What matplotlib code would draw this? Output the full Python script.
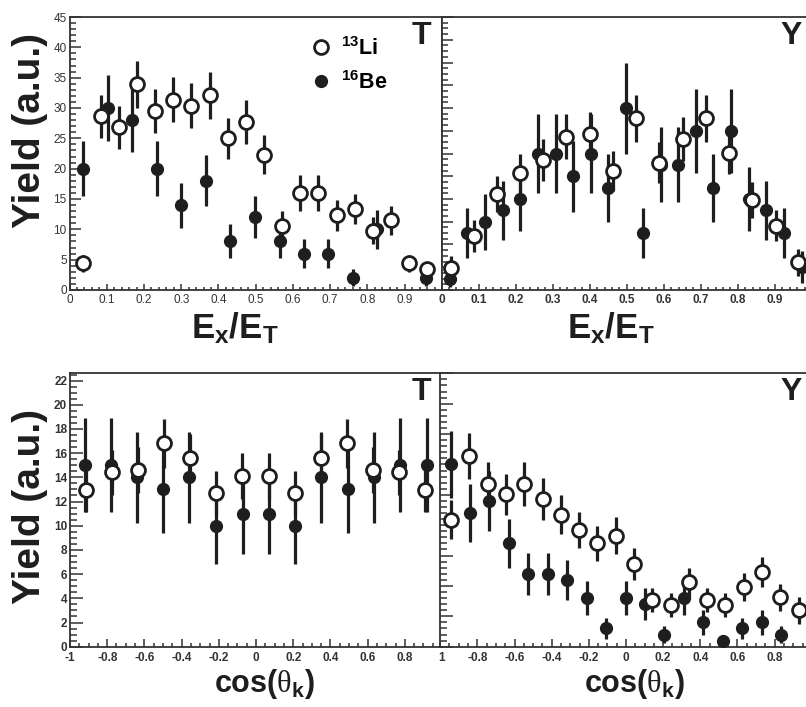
import numpy as np
import matplotlib
matplotlib.use('Agg')
import matplotlib.pyplot as plt
from matplotlib.ticker import MultipleLocator, FixedLocator, FuncFormatter
from matplotlib.lines import Line2D

plt.rcParams['font.family'] = ['Liberation Sans', 'DejaVu Sans']
plt.rcParams['mathtext.fontset'] = 'custom'
plt.rcParams['mathtext.rm'] = 'Liberation Sans:bold'
plt.rcParams['mathtext.bf'] = 'Liberation Sans:bold'
plt.rcParams['mathtext.it'] = 'Liberation Sans:bold'
plt.rcParams['mathtext.sf'] = 'Liberation Serif'

INK = '#1e1e1e'

############################### data: E_x/E_T, T system ###############################
t_li_x = [0.036, 0.084, 0.133, 0.181, 0.229, 0.277, 0.327, 0.376, 0.425, 0.473,
          0.522, 0.570, 0.619, 0.668, 0.717, 0.766, 0.815, 0.864, 0.912, 0.961]
t_li_y = [4.4, 28.6, 26.8, 33.9, 29.5, 31.4, 30.4, 32.1, 25.0, 27.7,
          22.3, 10.6, 16.0, 16.0, 12.3, 13.4, 9.8, 11.5, 4.4, 3.5]
t_li_e = [1.4, 3.6, 3.5, 3.9, 3.7, 3.7, 3.7, 3.85, 3.4, 3.6,
          3.2, 2.4, 2.9, 2.9, 2.5, 2.5, 2.2, 2.4, 1.4, 1.1]

t_be_x = [0.037, 0.104, 0.169, 0.235, 0.300, 0.367, 0.432, 0.498, 0.564, 0.630,
          0.695, 0.761, 0.826, 0.958]
t_be_y = [20, 30, 28, 20, 14, 18, 8, 12, 8, 6, 6, 2, 10, 2]
t_be_e = [4.5, 5.5, 5.3, 4.5, 3.7, 4.2, 2.8, 3.5, 2.8, 2.4, 2.4, 1.4, 3.2, 1.4]

############################### data: E_x/E_T, Y system ###############################
y_li_x = [0.025, 0.087, 0.150, 0.212, 0.274, 0.337, 0.401, 0.463, 0.526, 0.587,
          0.651, 0.713, 0.777, 0.838, 0.902, 0.963]
y_li_y = [1.96, 4.75, 8.44, 10.26, 11.43, 13.48, 13.71, 10.49, 15.09, 11.19,
          13.25, 15.09, 12.07, 7.91, 5.66, 2.43]
y_li_e = [1.05, 1.38, 1.61, 1.73, 1.86, 1.96, 1.96, 1.76, 2.05, 1.80,
          1.95, 2.05, 1.86, 1.61, 1.39, 1.17]

y_be_x = [0.024, 0.070, 0.118, 0.166, 0.212, 0.260, 0.308, 0.355, 0.403, 0.450,
          0.498, 0.545, 0.592, 0.639, 0.687, 0.734, 0.782, 0.829, 0.877, 0.925, 0.972]
y_be_y = [1, 5, 6, 7, 8, 12, 12, 10, 12, 9, 16, 5, 11, 11, 14, 9, 14, 8, 7, 5, 2]
y_be_e = [0.7, 2.2, 2.45, 2.6, 2.8, 3.45, 3.45, 3.1, 3.45, 3.0, 4.0, 2.2, 3.3, 3.3,
          3.7, 3.0, 3.7, 2.8, 2.6, 2.2, 1.4]

############################### data: cos(theta_k), T system ###############################
ct_li_x = [-0.914, -0.776, -0.635, -0.497, -0.356, -0.213, -0.073, 0.068, 0.208, 0.347,
           0.488, 0.630, 0.769, 0.911]
ct_li_y = [12.96, 14.4, 14.6, 16.8, 15.6, 12.7, 14.1, 14.1, 12.7, 15.6,
           16.8, 14.6, 14.4, 12.96]
ct_li_e = [1.85, 1.9, 1.9, 2.05, 1.95, 1.8, 1.9, 1.9, 1.8, 1.95, 2.05, 1.9, 1.9, 1.85]

ct_be_x = [-0.921, -0.778, -0.639, -0.499, -0.358, -0.213, -0.072, 0.068, 0.209, 0.349,
           0.492, 0.633, 0.775, 0.918]
ct_be_y = [15, 15, 14, 13, 14, 10, 11, 11, 10, 14, 13, 14, 15, 15]
ct_be_e = [3.87, 3.87, 3.74, 3.6, 3.74, 3.16, 3.3, 3.3, 3.16, 3.74, 3.6, 3.74, 3.87, 3.87]

############################### data: cos(theta_k), Y system ###############################
cy_li_x = [-0.944, -0.843, -0.744, -0.646, -0.547, -0.448, -0.350, -0.251, -0.154, -0.056,
           0.043, 0.142, 0.240, 0.339, 0.436, 0.535, 0.633, 0.732, 0.830, 0.929]
cy_li_y = [20.9, 31.4, 26.8, 25.1, 26.8, 24.3, 21.7, 19.2, 17.0, 18.3,
           13.6, 7.7, 6.9, 10.6, 7.7, 6.9, 9.8, 12.3, 8.1, 6.0]
cy_li_e = [3.2, 3.8, 3.6, 3.4, 3.6, 3.4, 3.2, 3.0, 2.9, 3.0,
           2.6, 2.0, 2.0, 2.4, 2.0, 2.0, 2.3, 2.5, 2.2, 2.2]

cy_be_x = [-0.944, -0.839, -0.735, -0.630, -0.526, -0.422, -0.317, -0.212, -0.106, -0.002,
           0.102, 0.206, 0.312, 0.416, 0.522, 0.626, 0.730, 0.834]
cy_be_y = [30, 22, 24, 17, 12, 12, 11, 8, 3, 8, 7, 2, 8, 4, 1, 3, 4, 2]
cy_be_e = [5.5, 4.7, 4.9, 4.1, 3.5, 3.5, 3.3, 2.8, 1.7, 2.8, 2.6, 1.4, 2.8, 2.0, 1.0, 1.7, 2.0, 1.4]

################################### figure ###################################
W, H = 806, 707
fig = plt.figure(figsize=(W / 100, H / 100), dpi=100)


def px_axes(x0, y0, x1, y1):
    # pixel box (top-left origin) -> figure fraction axes
    return fig.add_axes([x0 / W, 1 - y1 / H, (x1 - x0) / W, (y1 - y0) / H])


ax_tl = px_axes(69.5, 17, 442, 290)
ax_tr = px_axes(441.5, 17, 812, 290)
ax_bl = px_axes(70, 373.3, 442, 646.7)
ax_br = px_axes(440.2, 373.3, 811.8, 646.7)


def draw(ax, be, li):
    ax.errorbar(be[0], be[1], yerr=be[2], fmt='o', ms=8.5, mfc=INK, mec=INK,
                ecolor=INK, elinewidth=2.3, capsize=0, zorder=3)
    ax.errorbar(li[0], li[1], yerr=li[2], fmt='o', ms=10, mfc='white', mec=INK,
                mew=2.0, ecolor=INK, elinewidth=2.3, capsize=0, zorder=4)


def style(ax, bold, ylen=(8, 4.5), xlen=(4.5, 2.5), xpad=3):
    for s in ax.spines.values():
        s.set_linewidth(1.3)
        s.set_color('#333333')
    ax.tick_params(axis='both', which='both', direction='in', top=False, right=False,
                   width=1.1, color='#333333', labelcolor='#333333')
    ax.tick_params(axis='y', which='major', length=ylen[0], pad=2)
    ax.tick_params(axis='y', which='minor', length=ylen[1])
    ax.tick_params(axis='x', which='major', length=xlen[0], pad=xpad)
    ax.tick_params(axis='x', which='minor', length=xlen[1])
    w = 'bold' if bold else 'normal'
    for lab in ax.get_xticklabels() + ax.get_yticklabels():
        lab.set_fontweight(w)
        lab.set_fontsize(8.5)


def fmt_num(v, pos):
    s = ('%.1f' % v).rstrip('0').rstrip('.')
    return '0' if s in ('-0', '0') else s


# top-left: Ex/ET, T
draw(ax_tl, (t_be_x, t_be_y, t_be_e), (t_li_x, t_li_y, t_li_e))
ax_tl.set_xlim(0, 1)
ax_tl.set_ylim(0, 45)
ax_tl.xaxis.set_major_locator(FixedLocator(np.arange(0, 0.95, 0.1)))
ax_tl.xaxis.set_minor_locator(MultipleLocator(0.02))
ax_tl.yaxis.set_major_locator(MultipleLocator(5))
ax_tl.yaxis.set_minor_locator(MultipleLocator(1))
ax_tl.xaxis.set_major_formatter(FuncFormatter(fmt_num))
style(ax_tl, False)

# top-right: Ex/ET, Y
draw(ax_tr, (y_be_x, y_be_y, y_be_e), (y_li_x, y_li_y, y_li_e))
ax_tr.set_xlim(0, 1)
ax_tr.set_ylim(0, 24)
ax_tr.xaxis.set_major_locator(FixedLocator(np.arange(0, 0.95, 0.1)))
ax_tr.xaxis.set_minor_locator(MultipleLocator(0.02))
ax_tr.yaxis.set_major_locator(MultipleLocator(2))
ax_tr.yaxis.set_minor_locator(MultipleLocator(0.5))
ax_tr.xaxis.set_major_formatter(FuncFormatter(fmt_num))
ax_tr.set_yticklabels([])
style(ax_tr, True)

# bottom-left: cos, T
draw(ax_bl, (ct_be_x, ct_be_y, ct_be_e), (ct_li_x, ct_li_y, ct_li_e))
ax_bl.set_xlim(-1, 1)
ax_bl.set_ylim(0, 22.6)
ax_bl.xaxis.set_major_locator(MultipleLocator(0.2))
ax_bl.xaxis.set_minor_locator(MultipleLocator(0.05))
ax_bl.yaxis.set_major_locator(MultipleLocator(2))
ax_bl.yaxis.set_minor_locator(MultipleLocator(0.5))
ax_bl.xaxis.set_major_formatter(FuncFormatter(fmt_num))
style(ax_bl, True, ylen=(9, 5), xlen=(5.5, 3), xpad=4)

# bottom-right: cos, Y
draw(ax_br, (cy_be_x, cy_be_y, cy_be_e), (cy_li_x, cy_li_y, cy_li_e))
ax_br.set_xlim(-1, 1)
ax_br.set_ylim(0, 45)
ax_br.xaxis.set_major_locator(FixedLocator(np.arange(-0.8, 0.95, 0.2)))
ax_br.xaxis.set_minor_locator(MultipleLocator(0.05))
ax_br.yaxis.set_major_locator(MultipleLocator(5))
ax_br.yaxis.set_minor_locator(MultipleLocator(1))
ax_br.xaxis.set_major_formatter(FuncFormatter(fmt_num))
ax_br.set_yticklabels([])
style(ax_br, True, ylen=(9, 5), xlen=(5.5, 3), xpad=4)

# panel tags
for ax, tag in [(ax_tl, 'T'), (ax_tr, 'Y'), (ax_bl, 'T'), (ax_br, 'Y')]:
    ax.text(0.945, 0.93, tag, transform=ax.transAxes,
            ha='center', va='center', fontsize=23, fontweight='bold', color=INK)

# legend
handles = [Line2D([], [], ls='', marker='o', ms=10, mfc='white', mec=INK, mew=2.0),
           Line2D([], [], ls='', marker='o', ms=8.5, mfc=INK, mec=INK)]
ax_tl.legend(handles, [r'$^{13}$Li', r'$^{16}$Be'], loc='upper left',
             bbox_to_anchor=((310 - 69.5) / 372.5, (290 - 37) / 273), frameon=False,
             prop={'size': 15.5, 'weight': 'bold'}, handlelength=1.0, handletextpad=0.45,
             labelspacing=0.5, borderpad=0, borderaxespad=0)

# axis titles
for yc in (131, 507):
    fig.text(30 / W, 1 - yc / H, 'Yield (a.u.)', rotation=90, ha='center', va='center',
             fontsize=28, fontweight='bold', color=INK)
for xc in (235, 611):
    fig.text(xc / W, 1 - 338 / H, r'$\mathbf{E_x/E_T}$', ha='center', va='baseline',
             fontsize=25, color=INK)
for xc in (264, 634):
    fig.text(xc / W, 1 - 692 / H, r'$\mathbf{cos(}\mathsf{\theta}_\mathbf{k}\mathbf{)}$',
             ha='center', va='baseline', fontsize=22, color=INK)

fig.savefig('out.png', dpi=100)
